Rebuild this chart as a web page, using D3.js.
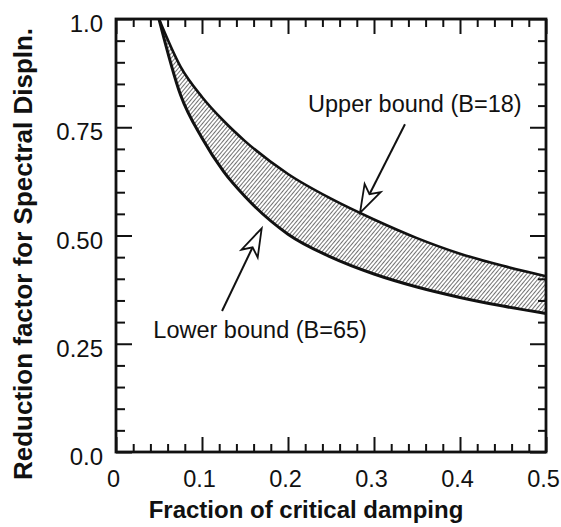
<!DOCTYPE html>
<html>
<head>
<meta charset="utf-8">
<script src="https://cdn.jsdelivr.net/npm/d3@7"></script>
<style>
  body { margin: 0; background: #fff; }
  text { font-family: "Liberation Sans", Arial, sans-serif; fill: #111; }
</style>
</head>
<body>
<svg id="chart"></svg>
<script>
// damping ratio and the two bounding curves
const damping = [0.05, 0.075, 0.1, 0.125, 0.15, 0.2, 0.25, 0.3, 0.35, 0.4, 0.45, 0.5];
const upperBound = [1.0, 0.89, 0.82, 0.765, 0.718, 0.642, 0.585, 0.537, 0.494, 0.458, 0.43, 0.406];
const lowerBound = [1.0, 0.825, 0.725, 0.648, 0.59, 0.503, 0.45, 0.411, 0.381, 0.357, 0.337, 0.32];

const xTicks = [0, 0.1, 0.2, 0.3, 0.4, 0.5];
const xTickLabels = ["0", "0.1", "0.2", "0.3", "0.4", "0.5"];
const yTicks = [0, 0.25, 0.5, 0.75, 1.0];
const yTickLabels = ["0.0", "0.25", "0.50", "0.75", "1.0"];

// annotations: label text, label anchor, arrow tip, arrow tail (data units)
const noteText = ["Upper bound (B=18)", "Lower bound (B=65)"];
const noteAnchor = [[0.2233, 0.785], [0.0434, 0.2626]];
const arrowTip = [[0.2837, 0.552], [0.1694, 0.5166]];
const arrowTail = [[0.336, 0.757], [0.1233, 0.3256]];

const width = 561, height = 527;
const margin = { top: 19, right: 15, bottom: 75, left: 116 };

const svg = d3.select("#chart").attr("width", width).attr("height", height);

const x = d3.scaleLinear().domain([0, 0.5]).range([margin.left, width - margin.right]);
const y = d3.scaleLinear().domain([0, 1]).range([height - margin.bottom, margin.top]);

// hatch pattern
svg.append("defs")
  .append("pattern")
  .attr("id", "hatch")
  .attr("patternUnits", "userSpaceOnUse")
  .attr("width", 3)
  .attr("height", 3)
  .attr("patternTransform", "rotate(40)")
  .append("line")
  .attr("x1", 0).attr("y1", 0)
  .attr("x2", 0).attr("y2", 3)
  .attr("stroke", "#111")
  .attr("stroke-width", 1.2);

const rows = damping.map((d, i) => ({ d, hi: upperBound[i], lo: lowerBound[i] }));

const area = d3.area()
  .x(r => x(r.d))
  .y0(r => y(r.lo))
  .y1(r => y(r.hi))
  .curve(d3.curveMonotoneX);

svg.append("path")
  .datum(rows)
  .attr("fill", "url(#hatch)")
  .attr("d", area);

const lineHi = d3.line().x(r => x(r.d)).y(r => y(r.hi)).curve(d3.curveMonotoneX);
const lineLo = d3.line().x(r => x(r.d)).y(r => y(r.lo)).curve(d3.curveMonotoneX);

svg.append("path").datum(rows).attr("fill", "none").attr("stroke", "#111")
  .attr("stroke-width", 2.6).attr("d", lineHi);
svg.append("path").datum(rows).attr("fill", "none").attr("stroke", "#111")
  .attr("stroke-width", 3).attr("d", lineLo);

// axes
const xMinor = d3.range(0, 0.5001, 0.02).filter(v => Math.abs(v * 10 - Math.round(v * 10)) > 1e-6);
const yMinor = d3.range(0, 1.0001, 0.05).filter(v => Math.abs(v * 4 - Math.round(v * 4)) > 1e-6);

const gAxes = svg.append("g");

function styleAxis(g) {
  g.select(".domain").remove();
  g.selectAll(".tick line").attr("stroke", "#111").attr("stroke-width", 2);
}

// bottom
gAxes.append("g")
  .attr("transform", `translate(0,${y(0)})`)
  .call(d3.axisBottom(x).tickValues(xTicks).tickSize(-15).tickPadding(18)
    .tickFormat((d, i) => xTickLabels[i]))
  .call(styleAxis)
  .call(g => g.selectAll("text").attr("font-size", 23.5).attr("dx", -3)
    .style("font-family", '"Liberation Sans", Arial, sans-serif').attr("fill", "#111"));
gAxes.append("g")
  .attr("transform", `translate(0,${y(0)})`)
  .call(d3.axisBottom(x).tickValues(xMinor).tickSize(-8).tickFormat(""))
  .call(styleAxis);

// top
gAxes.append("g")
  .attr("transform", `translate(0,${y(1)})`)
  .call(d3.axisTop(x).tickValues(xTicks).tickSize(-15).tickFormat(""))
  .call(styleAxis);
gAxes.append("g")
  .attr("transform", `translate(0,${y(1)})`)
  .call(d3.axisTop(x).tickValues(xMinor).tickSize(-8).tickFormat(""))
  .call(styleAxis);

// left
gAxes.append("g")
  .attr("transform", `translate(${x(0)},0)`)
  .call(d3.axisLeft(y).tickValues(yTicks).tickSize(-16).tickPadding(13)
    .tickFormat((d, i) => yTickLabels[i]))
  .call(styleAxis)
  .call(g => g.selectAll("text").attr("font-size", 24).attr("y", 5)
    .style("font-family", '"Liberation Sans", Arial, sans-serif').attr("fill", "#111"));
gAxes.append("g")
  .attr("transform", `translate(${x(0)},0)`)
  .call(d3.axisLeft(y).tickValues(yMinor).tickSize(-9).tickFormat(""))
  .call(styleAxis);

// right
gAxes.append("g")
  .attr("transform", `translate(${x(0.5)},0)`)
  .call(d3.axisRight(y).tickValues(yTicks).tickSize(-16).tickFormat(""))
  .call(styleAxis);
gAxes.append("g")
  .attr("transform", `translate(${x(0.5)},0)`)
  .call(d3.axisRight(y).tickValues(yMinor).tickSize(-8).tickFormat(""))
  .call(styleAxis);

// frame
svg.append("rect")
  .attr("x", x(0)).attr("y", y(1))
  .attr("width", x(0.5) - x(0)).attr("height", y(0) - y(1))
  .attr("fill", "none").attr("stroke", "#111").attr("stroke-width", 2.8);

// axis titles
svg.append("text")
  .attr("x", (x(0) + x(0.5)) / 2 - 25)
  .attr("y", 518)
  .attr("text-anchor", "middle")
  .attr("font-size", 24)
  .attr("font-weight", "bold")
  .text("Fraction of critical damping");

svg.append("text")
  .attr("transform", `translate(32,254) rotate(-90)`)
  .attr("text-anchor", "middle")
  .attr("font-size", 26)
  .attr("font-weight", "bold")
  .text("Reduction factor for Spectral Displn.");

// annotations
noteText.forEach((t, i) => {
  svg.append("text")
    .attr("x", x(noteAnchor[i][0]))
    .attr("y", y(noteAnchor[i][1]))
    .attr("font-size", 23.5)
    .text(t);

  const tx = x(arrowTip[i][0]), ty = y(arrowTip[i][1]);
  const ex = x(arrowTail[i][0]), ey = y(arrowTail[i][1]);
  const len = Math.hypot(ex - tx, ey - ty);
  const ux = (ex - tx) / len, uy = (ey - ty) / len;
  const px = -uy, py = ux;
  const headLen = 28, half = 9, notch = 21;
  const nx = tx + ux * notch, ny = ty + uy * notch;

  svg.append("line")
    .attr("x1", nx).attr("y1", ny).attr("x2", ex).attr("y2", ey)
    .attr("stroke", "#111").attr("stroke-width", 2);

  const head = [
    [tx, ty],
    [tx + ux * headLen + px * half, ty + uy * headLen + py * half],
    [nx, ny],
    [tx + ux * headLen - px * half, ty + uy * headLen - py * half]
  ];
  svg.append("path")
    .attr("d", d3.line()(head) + "Z")
    .attr("fill", "#fff")
    .attr("stroke", "#111")
    .attr("stroke-width", 1.8)
    .attr("stroke-linejoin", "miter");
});
</script>
</body>
</html>
